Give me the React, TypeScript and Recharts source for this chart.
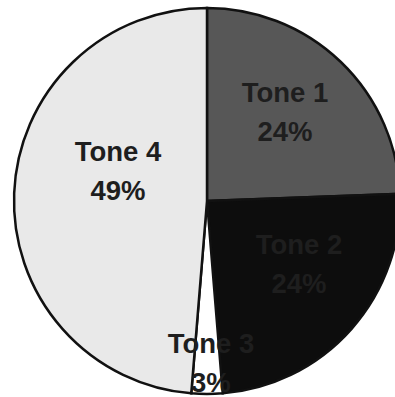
import React from "react";
import { PieChart, Pie, Cell } from "recharts";

const categories = ["Tone 1", "Tone 2", "Tone 3", "Tone 4"];
const values = [24.4, 24.3, 2.6, 48.7];
const colors = ["#575757", "#0d0d0d", "#ffffff", "#e9e9e9"];

const data = categories.map((name, i) => ({ name, value: values[i] }));

// label placement: [radius, angle shift in degrees]
const labelPlacement: [number, number][] = [
  [119, 3],
  [111, 7.6],
  [162, 1.4],
  [94, -16.3],
];

const RAD = Math.PI / 180;

const renderLabel = (props: any) => {
  const { cx, cy, midAngle, index, name, value } = props;
  const [r, shift] = labelPlacement[index];
  const a = (midAngle + shift) * RAD;
  const x = cx + r * Math.cos(a);
  const y = cy - r * Math.sin(a);
  const common = {
    textAnchor: "middle" as const,
    dominantBaseline: "central" as const,
    fill: "#1e1e1e",
    fontSize: 27.5,
    fontWeight: "bold" as const,
    fontFamily: "'Liberation Sans', Arial, sans-serif",
  };
  return (
    <g>
      <text x={x} y={y - 19} {...common}>
        {name}
      </text>
      <text x={x} y={y + 20} {...common}>
        {`${Math.round(value)}%`}
      </text>
    </g>
  );
};

export default function App() {
  return (
    <div
      style={{
        position: "fixed",
        top: 0,
        left: 0,
        width: 395,
        height: 397,
        overflow: "hidden",
        background: "#ffffff",
      }}
    >
      <PieChart width={395} height={397} margin={{ top: 0, right: 0, bottom: 0, left: 0 }}>
        <Pie
          data={data}
          dataKey="value"
          nameKey="name"
          cx={207}
          cy={201}
          outerRadius={193}
          startAngle={90}
          endAngle={-270}
          stroke="#111"
          strokeWidth={2.5}
          label={renderLabel}
          labelLine={false}
          isAnimationActive={false}
        >
          {data.map((d, i) => (
            <Cell key={d.name} fill={colors[i]} />
          ))}
        </Pie>
      </PieChart>
    </div>
  );
}
